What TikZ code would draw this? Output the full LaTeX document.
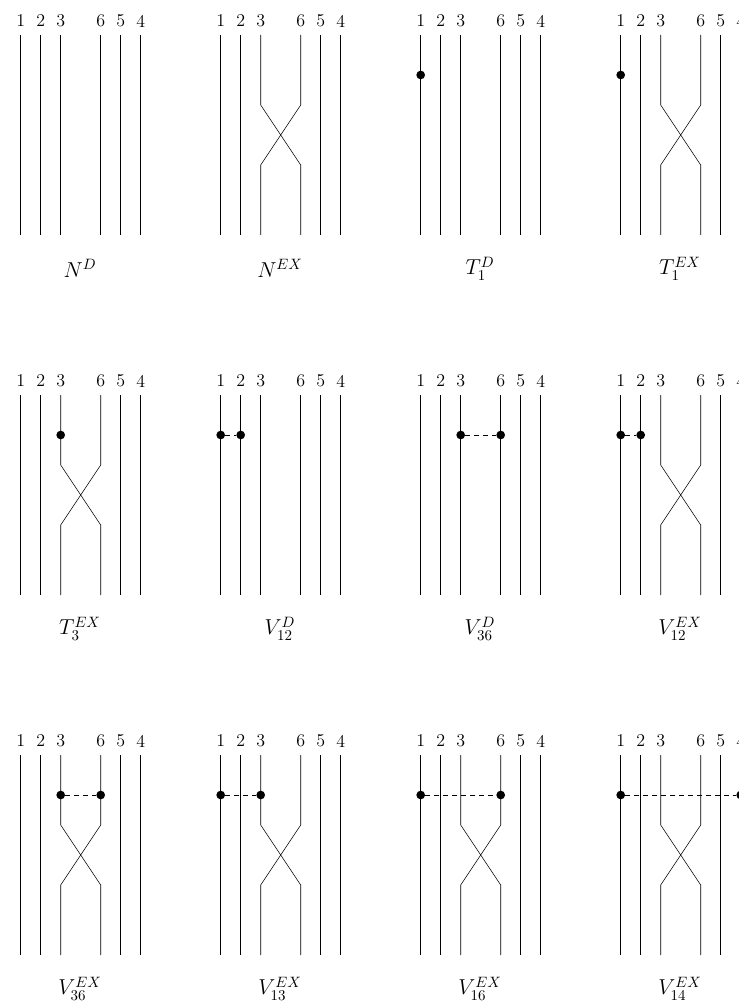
\documentclass[tikz,border=0pt]{standalone}
\begin{document}
\begin{tikzpicture}[x=0.6667pt,y=-0.6667pt,
  strand/.style={line width=0.4pt},
  dotmark/.style={circle,fill,inner sep=0pt,minimum size=5.8pt},
  link/.style={dashed,line width=0.4pt},
  num/.style={inner sep=0pt,font=\large},
  panellabel/.style={inner sep=0pt,font=\Large}]
\useasboundingbox (0,0) rectangle (738,1003);
\newcommand\mkpanel[5]{%
  \foreach \s/\dx in {1/20.7,2/40.7,3/60.7,6/100.7,5/120.7,4/140.7} {
    \node[num] (#1-l\s) at (#2+\dx,#3+21) {\s};
    \coordinate (#1-t\s) at (#2+\dx,#3+35);
    \coordinate (#1-m\s) at (#2+\dx,#3+75);
    \coordinate (#1-b\s) at (#2+\dx,#3+235);
  }
  \draw[strand] (#1-t1) -- (#1-b1);
  \draw[strand] (#1-t2) -- (#1-b2);
  \draw[strand] (#1-t5) -- (#1-b5);
  \draw[strand] (#1-t4) -- (#1-b4);
  \ifnum#4=1
    \coordinate (#1-u3) at (#2+60.7,#3+105);
    \coordinate (#1-u6) at (#2+100.7,#3+105);
    \coordinate (#1-w3) at (#2+60.7,#3+165);
    \coordinate (#1-w6) at (#2+100.7,#3+165);
    \draw[strand] (#1-t3) -- (#1-u3) -- (#1-w6) -- (#1-b6);
    \draw[strand] (#1-t6) -- (#1-u6) -- (#1-w3) -- (#1-b3);
  \else
    \draw[strand] (#1-t3) -- (#1-b3);
    \draw[strand] (#1-t6) -- (#1-b6);
  \fi
  \node[panellabel] (#1-name) at (#2+80,#3+268.5) {$#5$};
}
\newcommand\onedot[2]{\node[dotmark] (#1-p#2) at (#1-m#2) {};}
\newcommand\twodots[3]{%
  \node[dotmark] (#1-p#2) at (#1-m#2) {};
  \node[dotmark] (#1-p#3) at (#1-m#3) {};
  \draw[link] (#1-p#2) -- (#1-p#3);
}
% row 1
\mkpanel{nd}{0}{0}{0}{N^D}
\mkpanel{nex}{200}{0}{1}{N^{EX}}
\mkpanel{tod}{400}{0}{0}{T_1^D}
\onedot{tod}{1}
\mkpanel{toex}{600}{0}{1}{T_1^{EX}}
\onedot{toex}{1}
% row 2
\mkpanel{ttex}{0}{360}{1}{T_3^{EX}}
\onedot{ttex}{3}
\mkpanel{vad}{200}{360}{0}{V_{12}^D}
\twodots{vad}{1}{2}
\mkpanel{vbd}{400}{360}{0}{V_{36}^D}
\twodots{vbd}{3}{6}
\mkpanel{vaex}{600}{360}{1}{V_{12}^{EX}}
\twodots{vaex}{1}{2}
% row 3
\mkpanel{vbex}{0}{720}{1}{V_{36}^{EX}}
\twodots{vbex}{3}{6}
\mkpanel{vcex}{200}{720}{1}{V_{13}^{EX}}
\twodots{vcex}{1}{3}
\mkpanel{vdex}{400}{720}{1}{V_{16}^{EX}}
\twodots{vdex}{1}{6}
\mkpanel{veex}{600}{720}{1}{V_{14}^{EX}}
\twodots{veex}{1}{4}
\end{tikzpicture}
\end{document}
